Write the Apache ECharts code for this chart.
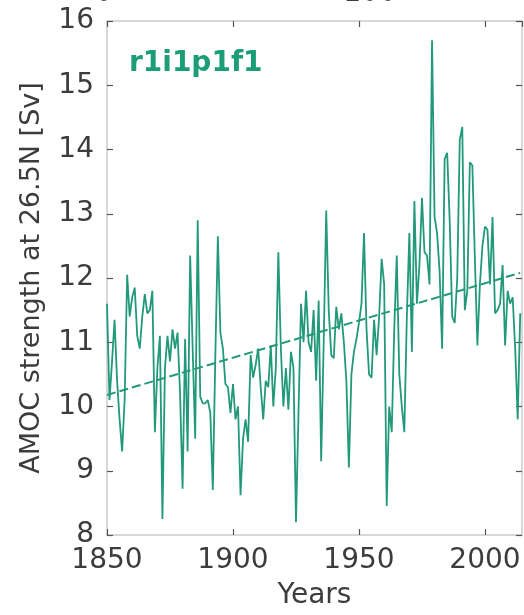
<!DOCTYPE html>
<html>
<head>
<meta charset="utf-8">
<script src="https://cdn.jsdelivr.net/npm/echarts@6/dist/echarts.min.js"></script>
<style>
  html, body { margin: 0; padding: 0; background: #fff; }
  #chart { width: 524px; height: 615px; }
</style>
</head>
<body>
<div id="chart"></div>
<script>
// annual AMOC strength at 26.5N [Sv], 1850..2014
const startYear = 1850;
const amoc = [
  11.6, 10.1, 10.7, 11.35, 10.4, 9.8, 9.3, 10.1, 12.05, 11.4,
  11.7, 11.85, 11.1, 10.9, 11.4, 11.75, 11.45, 11.5, 11.8, 9.6,
  10.6, 11.1, 8.25, 10.6, 11.1, 10.7, 11.2, 10.9, 11.15, 10.2,
  8.72, 11.05, 9.3, 12.35, 10.9, 9.5, 12.9, 10.15, 10.05, 10.05,
  10.1, 9.9, 8.7, 10.8, 12.65, 11.15, 10.9, 10.35, 10.3, 9.9,
  10.35, 9.8, 10.0, 8.62, 9.5, 9.8, 9.45, 10.8, 10.45, 10.65,
  10.9, 10.3, 9.8, 10.4, 10.3, 10.95, 10.0, 10.6, 12.4, 10.9,
  10.0, 10.6, 9.95, 10.85, 10.6, 8.2, 9.9, 11.6, 11.0, 11.8,
  11.0, 10.85, 11.5, 10.4, 11.65, 9.15, 11.0, 13.05, 11.5, 10.8,
  10.75, 11.55, 11.2, 11.45, 11.0, 10.4, 9.05, 10.5, 10.85, 11.05,
  11.3, 11.6, 12.7, 11.2, 10.5, 10.45, 11.35, 10.8, 11.4, 12.3,
  11.9, 8.45, 10.0, 9.6, 11.2, 12.35, 10.5, 10.0, 9.6, 11.4,
  12.7, 10.85, 13.2, 11.6, 12.2, 13.25, 12.4, 12.35, 11.9, 15.7,
  12.95, 12.7, 12.1, 10.9, 13.85, 13.95, 12.9, 11.4, 11.3, 12.0,
  14.15, 14.35, 11.5, 11.8, 13.8, 13.75, 12.3, 10.95, 11.9, 12.5,
  12.8, 12.75, 11.9, 12.95, 11.45, 11.5, 11.6, 12.2, 10.95, 11.8,
  11.6, 11.7, 10.9, 9.8, 11.45
];
// linear trend, end points
const trendYears = [1850, 2014];
const trendValues = [10.18, 12.08];

const xTicks = [1850, 1900, 1950, 2000];
const topLabels = ['0', '100'];

const green = '#22997a';
const textColor = '#3c3c3c';
const font = 'DejaVu Sans';

const lineData = amoc.map((v, i) => [startYear + i, v]);
const trendData = trendYears.map((y, i) => [y, trendValues[i]]);

const chart = echarts.init(document.getElementById('chart'));

const xBase = {
  type: 'value',
  min: 1850,
  max: 2014.7,
  interval: 50,
  splitLine: { show: false },
  axisLine: { show: false },
  axisTick: { inside: true, length: 6, lineStyle: { color: '#555', width: 1.2 } },
};
const yBase = {
  type: 'value',
  min: 8,
  max: 16,
  interval: 1,
  splitLine: { show: false },
  axisLine: { show: false },
  axisTick: { inside: true, length: 6, lineStyle: { color: '#555', width: 1.2 } },
};

chart.setOption({
  animation: false,
  grid: {
    left: 107, top: 21, right: 2, bottom: 77,
    show: true, borderColor: '#cccccc', borderWidth: 1.5,
  },
  xAxis: [
    Object.assign({}, xBase, {
      position: 'bottom',
      name: 'Years',
      nameLocation: 'middle',
      nameGap: 47,
      nameTextStyle: { fontFamily: font, fontSize: 28, color: textColor },
      axisLabel: {
        margin: 12,
        showMaxLabel: false,
        fontFamily: font, fontSize: 28, color: textColor,
        formatter: (v) => (xTicks.includes(v) ? String(v) : ''),
      },
    }),
    Object.assign({}, xBase, {
      position: 'top',
      axisLabel: { show: false },
    }),
  ],
  yAxis: [
    Object.assign({}, yBase, {
      position: 'left',
      name: 'AMOC strength at 26.5N [Sv]',
      nameLocation: 'middle',
      nameGap: 62,
      nameTextStyle: { fontFamily: font, fontSize: 27, color: textColor },
      axisLabel: { margin: 13, fontFamily: font, fontSize: 28, color: textColor },
    }),
    Object.assign({}, yBase, {
      position: 'right',
      axisLabel: { show: false },
    }),
  ],
  graphic: [
    {
      type: 'text', left: 129, top: 50,
      style: { text: 'r1i1p1f1', fill: '#1b9e77', font: 'bold 28px "DejaVu Sans"' },
    },
    {
      type: 'text', x: 104, y: -6,
      style: { text: topLabels[0], fill: textColor, font: '28px "DejaVu Sans"', textAlign: 'center', textVerticalAlign: 'middle' },
    },
    {
      type: 'text', x: 370, y: -6,
      style: { text: topLabels[1], fill: textColor, font: '28px "DejaVu Sans"', textAlign: 'center', textVerticalAlign: 'middle' },
    },
  ],
  series: [
    {
      type: 'line',
      data: lineData,
      showSymbol: false,
      lineStyle: { color: green, width: 1.8 },
      z: 3,
    },
    {
      type: 'line',
      data: trendData,
      showSymbol: false,
      lineStyle: { color: green, width: 2, type: [9, 4] },
      z: 2,
    },
  ],
});
</script>
</body>
</html>
